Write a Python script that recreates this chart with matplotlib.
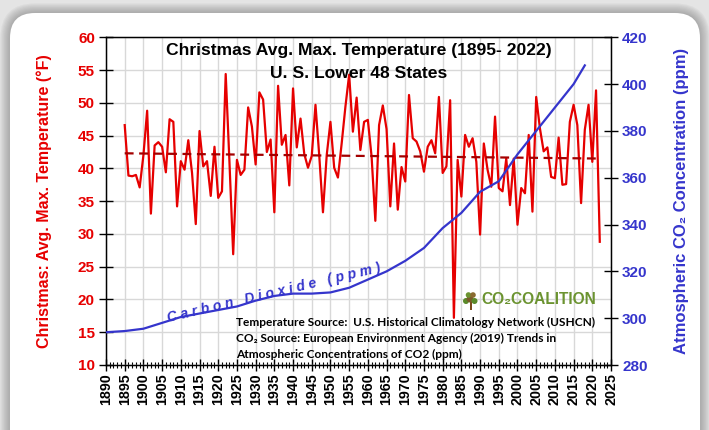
import matplotlib
matplotlib.use("Agg")
import matplotlib.pyplot as plt
import numpy as np
from matplotlib.patches import FancyBboxPatch, Circle, Rectangle
from matplotlib.ticker import MultipleLocator

# ---------------- data ----------------
years = list(range(1895, 2023))
temps = [46.6, 38.9, 38.8, 39.0, 37.1, 42.0, 48.8, 33.1, 43.5, 44.0,
         43.3, 39.4, 47.5, 47.1, 34.2, 41.1, 39.8, 44.3, 39.3, 31.5,
         45.7, 40.3, 41.1, 35.8, 43.3, 35.5, 36.5, 54.4, 41.0, 26.9,
         41.3, 39.0, 39.8, 49.3, 46.4, 40.6, 51.6, 50.5, 42.5, 44.4,
         33.3, 52.6, 43.6, 45.1, 37.4, 52.2, 43.2, 47.6, 42.2, 40.1,
         41.9, 49.7, 42.0, 33.3, 42.0, 47.1, 40.1, 38.6, 43.8, 49.4,
         54.3, 45.6, 50.8, 42.8, 47.1, 47.4, 41.8, 32.0, 46.6, 49.6,
         46.0, 34.2, 43.8, 33.7, 40.2, 38.0, 51.2, 44.6, 44.1, 42.6,
         39.5, 43.3, 44.3, 42.3, 50.9, 39.3, 40.3, 50.4, 17.2, 41.3,
         35.7, 45.1, 43.3, 44.6, 41.0, 29.9, 43.8, 39.8, 37.2, 47.9,
         37.0, 36.5, 41.5, 34.4, 41.5, 31.4, 37.0, 36.2, 45.1, 33.4,
         50.9, 46.1, 42.6, 43.2, 38.7, 38.5, 44.7, 37.5, 37.6, 47.1,
         49.7, 46.6, 34.7, 45.9, 49.7, 41.0, 51.9, 28.8]
trend_years = [1895, 2022]
trend_vals = [42.3, 41.5]

co2_years = [1890, 1895, 1900, 1905, 1910, 1915, 1920, 1925, 1930, 1935,
             1940, 1945, 1950, 1955, 1960, 1965, 1970, 1975, 1980, 1985,
             1990, 1995, 2000, 2005, 2010, 2015, 2018]
co2_ppm = [294.0, 294.5, 295.5, 298.0, 300.5, 302.0, 303.5, 305.0, 307.5, 309.5,
           310.5, 310.5, 311.0, 313.0, 316.5, 320.0, 324.5, 330.0, 338.5, 345.0,
           354.0, 358.5, 370.0, 380.0, 390.0, 400.0, 408.0]

temp_ticks = list(range(10, 61, 5))
co2_ticks = list(range(280, 421, 20))
year_ticks = list(range(1890, 2026, 5))

title1 = "Christmas Avg. Max. Temperature (1895- 2022)"
title2 = "U. S. Lower 48 States"
left_label = "Christmas: Avg. Max. Temperature (°F)"
right_label = "Atmospheric CO₂ Concentration (ppm)"
co2_line_label = "C a r b o n   D i o x i d e   ( p p m )"
source_lines = ["Temperature Source:  U.S. Historical Climatology Network (USHCN)",
                "CO₂ Source: European Environment Agency (2019) Trends in",
                "Atmospheric Concentrations of CO2 (ppm)"]
logo_text = "CO₂COALITION"

# ---------------- style ----------------
RED = "#e60000"
DARKRED = "#a30000"
BLUE = "#3535cc"
GREEN = "#6b9330"
SANS = ["Liberation Sans", "DejaVu Sans"]
plt.rcParams["font.family"] = SANS

W, H = 7.09, 4.30
fig = plt.figure(figsize=(W, H), dpi=100)
fig.patch.set_facecolor("#e4e4e4")

def fx(px):
    return px / 709.0

def fy(py):
    return 1.0 - py / 430.0

# rounded white panel with soft shadow
bx0, by0, bx1, by1 = 0.10, -0.40, 7.00, 4.17
for i in range(8, 0, -1):
    d = 0.012 * i
    sh = FancyBboxPatch((bx0 - d, by0 - d), (bx1 - bx0) + 2 * d, (by1 - by0) + 2 * d,
                        boxstyle="round,pad=0,rounding_size=%f" % (0.25 + d),
                        transform=fig.dpi_scale_trans, facecolor="#707070",
                        edgecolor="none", alpha=0.07, zorder=-20)
    fig.patches.append(sh)
panel = FancyBboxPatch((bx0, by0), bx1 - bx0, by1 - by0,
                       boxstyle="round,pad=0,rounding_size=0.25",
                       transform=fig.dpi_scale_trans, facecolor="white",
                       edgecolor="none", zorder=-10)
fig.patches.append(panel)

# ---------------- axes ----------------
L, R, T, B = 106, 611, 37.3, 365
ax = fig.add_axes([fx(L), fy(B), fx(R) - fx(L), fy(T) - fy(B)])
ax.set_facecolor("white")
ax.set_xlim(1890, 2025)
ax.set_ylim(10, 60)
ax.set_xticks(year_ticks)
ax.xaxis.set_minor_locator(MultipleLocator(1))
ax.set_yticks(temp_ticks)
ax.grid(True, which="major", color="#d8d8d8", linewidth=1.0)
ax.set_axisbelow(True)
for s in ax.spines.values():
    s.set_color("black")
    s.set_linewidth(1.0)

ax.plot(years, temps, color=RED, lw=1.6, zorder=3)
ax.plot(trend_years, trend_vals, color=DARKRED, lw=1.6, ls=(0, (4, 2.5)), zorder=4)

ax.tick_params(axis="x", which="major", direction="inout", length=8, width=1.0,
               top=False, labelsize=10.3, pad=2, labelrotation=90)
ax.tick_params(axis="x", which="minor", direction="inout", length=4, width=0.8, top=False)
ax.tick_params(axis="y", which="major", direction="inout", length=10, width=1.0,
               labelsize=11, labelcolor=RED, pad=3)
for lab in ax.get_xticklabels():
    lab.set_fontweight("bold")
for lab in ax.get_yticklabels():
    lab.set_fontweight("bold")
ax.set_ylabel(left_label, color=RED, fontsize=11.5, fontweight="bold")

ax2 = ax.twinx()
ax2.set_ylim(280, 420)
ax2.set_yticks(co2_ticks)
ax2.plot(co2_years, co2_ppm, color=BLUE, lw=1.6, zorder=3)
ax2.tick_params(axis="y", which="major", direction="inout", length=10, width=1.0,
                labelsize=11, labelcolor=BLUE, pad=3)
for lab in ax2.get_yticklabels():
    lab.set_fontweight("bold")
ax2.set_ylabel(right_label, color=BLUE, fontsize=12, fontweight="bold", family=SANS)
ax2.yaxis.set_label_coords(1 + (674 - R) / (R - L), 0.5)
ax.yaxis.set_label_coords(-(L - 52) / (R - L), 0.5)

# titles
ax2.text(0.5, 0.961, title1, transform=ax2.transAxes, ha="center", va="center",
         fontsize=12.6, fontweight="bold", color="black", zorder=10)
ax2.text(0.5, 0.891, title2, transform=ax2.transAxes, ha="center", va="center",
         fontsize=12.6, fontweight="bold", color="black", zorder=10)

# carbon dioxide line label
fig.text(fx(274), fy(293), co2_line_label, rotation=13.3, rotation_mode="anchor",
         ha="center", va="center", color=BLUE, fontsize=10, style="italic",
         fontweight="bold")

# source text
for i, line in enumerate(source_lines):
    fig.text(fx(236), fy(322 + 16 * i), line, ha="left", va="center",
             fontsize=8.6, fontweight="bold", color="black",
             family=["Lato", "DejaVu Sans"])

# logo
fig.text(fx(481), fy(300), logo_text, ha="left", va="center", fontsize=11.2,
         fontweight="bold", color=GREEN, family=SANS)
# small tree icon
tree_tr = fig.dpi_scale_trans
trunk = Rectangle((4.695, 4.30 - 3.10), 0.025, 0.10, transform=tree_tr,
                  facecolor="#7a4a1c", edgecolor="none")
fig.patches.append(trunk)
for (cx, cy, r, c) in [(4.66, 3.01, 0.030, "#5a8a2a"), (4.70, 2.99, 0.035, "#7a5a2a"),
                       (4.745, 3.01, 0.030, "#5a8a2a"), (4.685, 2.95, 0.028, "#6b9330"),
                       (4.73, 2.95, 0.028, "#8a6a30")]:
    fig.patches.append(Circle((cx, 4.30 - cy), r, transform=tree_tr,
                              facecolor=c, edgecolor="none"))

fig.savefig("out.png", dpi=100, facecolor=fig.get_facecolor())
